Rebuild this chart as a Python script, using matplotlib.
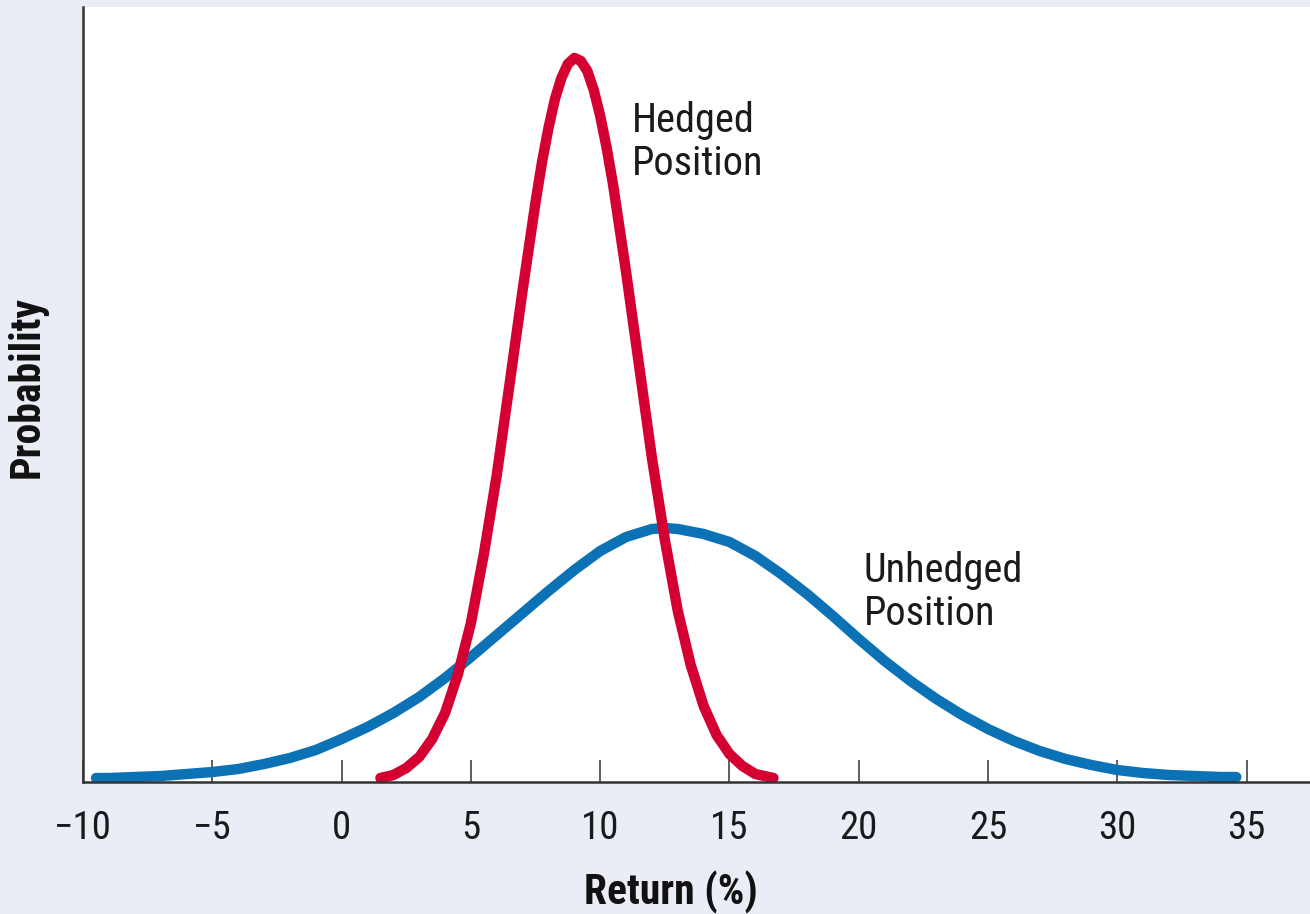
import matplotlib
matplotlib.use("Agg")
import matplotlib.pyplot as plt
from matplotlib import font_manager

# values (probability in arbitrary units, hedged peak ~ 724)
hedged_x = [1.5, 2.0, 2.5, 3.0, 3.5, 4.0, 4.5, 5.0, 5.5, 6.0, 6.5, 7.0, 7.5, 7.75,
            8.0, 8.25, 8.5, 8.75, 9.0, 9.25, 9.5, 9.75, 10.0, 10.25, 10.5, 11.0,
            11.5, 12.0, 12.5, 13.0, 13.5, 14.0, 14.5, 15.0, 15.5, 16.0, 16.7]
hedged_y = [4, 7, 14, 25, 43, 69, 108, 159, 228, 307, 399, 492, 580, 620,
            654, 683, 704, 718, 724, 721, 711, 692, 666, 634, 597, 510,
            417, 324, 242, 171, 117, 76, 47, 28, 16, 8, 4]

unhedged_x = [-9.5, -9, -8, -7, -6, -5, -4, -3, -2, -1, 0, 1, 2, 3, 4, 5, 6, 7, 8,
              9, 10, 11, 12, 12.5, 13, 14, 15, 16, 17, 18, 19, 20, 21, 22, 23, 24,
              25, 26, 27, 28, 29, 30, 31, 32, 33, 34, 34.6]
unhedged_y = [4, 4, 5, 6, 8, 10, 13, 18, 24, 32, 43, 55, 69, 85, 104, 125, 147,
              169, 191, 212, 231, 245, 253, 254, 253, 248, 240, 226, 208, 188,
              166, 143, 121, 101, 83, 67, 53, 41, 31, 23, 17, 12, 9, 7, 6, 5, 5]

xticks = [-10, -5, 0, 5, 10, 15, 20, 25, 30, 35]

names = set(f.name for f in font_manager.fontManager.ttflist)
fam = [n for n in ["Liberation Sans Narrow", "Roboto Condensed", "DejaVu Sans Condensed",
                   "Liberation Sans", "DejaVu Sans"] if n in names]
plt.rcParams['font.family'] = fam

fig = plt.figure(figsize=(13.1, 9.14), dpi=100, facecolor="#eaedf6")
ax = fig.add_axes([0.0634, 0.1444, 0.9366, 0.848])
ax.set_facecolor("white")

ax.plot(unhedged_x, unhedged_y, color="#0b72b5", lw=7.5, solid_capstyle="round",
        solid_joinstyle="round")
ax.plot(hedged_x, hedged_y, color="#d50032", lw=7.5, solid_capstyle="round",
        solid_joinstyle="round")

ax.text(11.24, 640, "Hedged\nPosition", fontsize=29, va="center", ha="left",
        color="#1a1a1a", linespacing=1.15)
ax.text(20.19, 190, "Unhedged\nPosition", fontsize=29, va="center", ha="left",
        color="#1a1a1a", linespacing=1.15)

ax.set_xlim(-10, 37.45)
ax.set_ylim(0, 775)
ax.set_xticks(xticks)
ax.set_xticklabels([f"\u2212{abs(t)}" if t < 0 else str(t) for t in xticks])
ax.set_yticks([])
ax.tick_params(axis="x", direction="in", length=16, width=1.1, pad=20,
               labelsize=28, colors="#333333", labelcolor="#1a1a1a")

for s in ["top", "right"]:
    ax.spines[s].set_visible(False)
for s in ["left", "bottom"]:
    ax.spines[s].set_color("#333333")
    ax.spines[s].set_linewidth(1.8)

ax.set_xlabel("Return (%)", fontsize=30, fontweight="bold", color="#111111")
ax.xaxis.set_label_coords(0.479, -0.115)
ax.set_ylabel("Probability", fontsize=30, fontweight="bold", color="#111111")
ax.yaxis.set_label_coords(-0.0285, 0.51)

fig.savefig("out.png", dpi=100, facecolor=fig.get_facecolor())
